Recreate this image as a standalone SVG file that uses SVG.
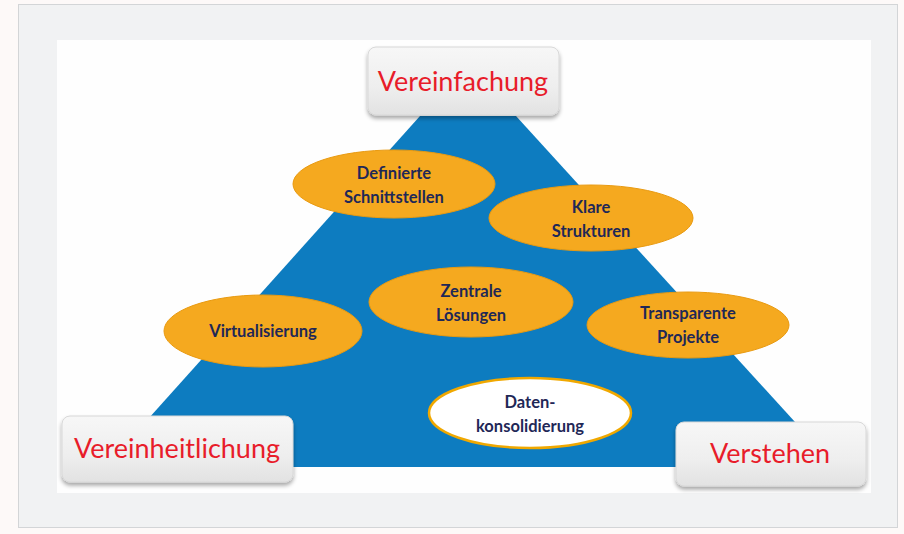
<svg xmlns="http://www.w3.org/2000/svg" width="904" height="534" viewBox="0 0 904 534">
<defs>
<linearGradient id="boxg" x1="0" y1="0" x2="0" y2="1">
<stop offset="0" stop-color="#f7f7f7"/>
<stop offset="0.6" stop-color="#eeeeee"/>
<stop offset="1" stop-color="#e2e2e2"/>
</linearGradient>
<filter id="sh" x="-10%" y="-10%" width="120%" height="130%">
<feGaussianBlur in="SourceAlpha" stdDeviation="2"/>
<feOffset dx="0" dy="3"/>
<feComponentTransfer><feFuncA type="linear" slope="0.35"/></feComponentTransfer>
<feMerge><feMergeNode/><feMergeNode in="SourceGraphic"/></feMerge>
</filter>
</defs>
<style>
.oval{fill:#f5a91f;stroke:#e99a10;stroke-width:1}
.white{fill:#ffffff;stroke:#f0a800;stroke-width:2.5}
.lbl{font-family:Lato,"Liberation Sans",sans-serif;font-weight:bold;font-size:16.5px;fill:#1f2857;text-anchor:middle}
.box{fill:url(#boxg);stroke:#d8d8d8;stroke-width:1}
.head{font-family:Lato,"Liberation Sans",sans-serif;font-size:27px;fill:#e81c2a;text-anchor:middle}
</style>
<rect x="0" y="0" width="904" height="534" fill="#fdf9f8"/>
<rect x="18.5" y="4.5" width="879" height="523" fill="#f1f2f3" stroke="#d3d5d7"/>
<rect x="57" y="40" width="814" height="453" fill="#fefefe"/>
<g id="pyramid">
<polygon points="420,116 516,116 836,467 105,467" fill="#0d7cc0"/>
</g>
<g id="definierte">
<ellipse class="oval" cx="394" cy="184" rx="101" ry="34"/>
<text class="lbl" x="394" y="179">Definierte</text>
<text class="lbl" x="394" y="203">Schnittstellen</text>
</g>
<g id="klare">
<ellipse class="oval" cx="591" cy="218" rx="102" ry="33"/>
<text class="lbl" x="591" y="213">Klare</text>
<text class="lbl" x="591" y="237">Strukturen</text>
</g>
<g id="zentrale">
<ellipse class="oval" cx="471" cy="302" rx="102" ry="35"/>
<text class="lbl" x="471" y="297">Zentrale</text>
<text class="lbl" x="471" y="321">Lösungen</text>
</g>
<g id="virtualisierung">
<ellipse class="oval" cx="263" cy="331" rx="99" ry="36"/>
<text class="lbl" x="263" y="337">Virtualisierung</text>
</g>
<g id="transparente">
<ellipse class="oval" cx="688" cy="325" rx="101" ry="33"/>
<text class="lbl" x="688" y="319">Transparente</text>
<text class="lbl" x="688" y="343">Projekte</text>
</g>
<g id="daten">
<ellipse class="white" cx="530" cy="413" rx="101" ry="35"/>
<text class="lbl" x="530" y="408">Daten-</text>
<text class="lbl" x="530" y="432">konsolidierung</text>
</g>
<g id="vereinfachung">
<rect class="box" x="368" y="47" width="191" height="68" rx="8" filter="url(#sh)"/>
<text class="head" x="463" y="91">Vereinfachung</text>
</g>
<g id="vereinheitlichung">
<rect class="box" x="62" y="416" width="231" height="66" rx="8" filter="url(#sh)"/>
<text class="head" x="177" y="458">Vereinheitlichung</text>
</g>
<g id="verstehen">
<rect class="box" x="676" y="422" width="190" height="64" rx="8" filter="url(#sh)"/>
<text class="head" x="770" y="463">Verstehen</text>
</g>
<g id="connectors"/>
</svg>
